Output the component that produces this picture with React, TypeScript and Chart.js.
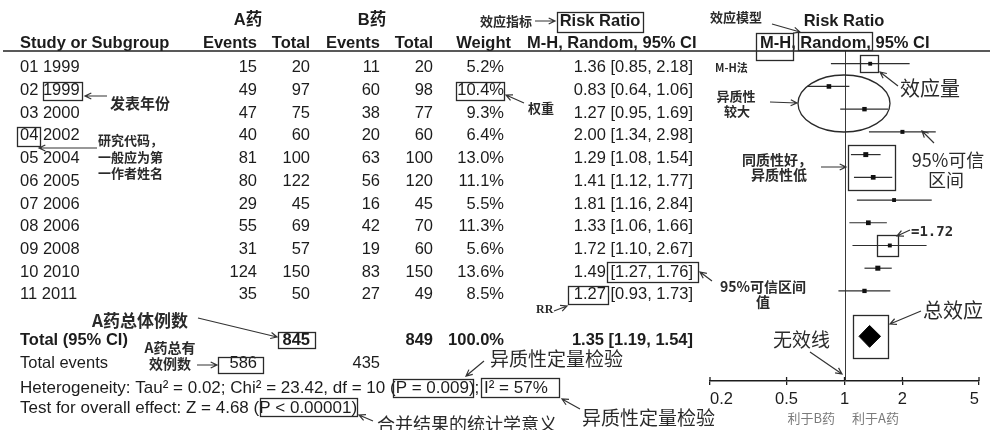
import React, { useEffect, useRef } from 'react';
import { Chart, registerables } from 'chart.js';

Chart.register(...registerables);

// ---------- data ----------
const studies = ['01 1999', '02 1999', '03 2000', '04 2002', '05 2004', '06 2005', '07 2006', '08 2006', '09 2008', '10 2010', '11 2011'];
const eventsA = [15, 49, 47, 40, 81, 80, 29, 55, 31, 124, 35];
const totalA = [20, 97, 75, 60, 100, 122, 45, 69, 57, 150, 50];
const eventsB = [11, 60, 38, 20, 63, 56, 16, 42, 19, 83, 27];
const totalB = [20, 98, 77, 60, 100, 120, 45, 70, 60, 150, 49];
const weights = [5.2, 10.4, 9.3, 6.4, 13.0, 11.1, 5.5, 11.3, 5.6, 13.6, 8.5];
const rr = [1.36, 0.83, 1.27, 2.0, 1.29, 1.41, 1.81, 1.33, 1.72, 1.49, 1.27];
const ciLow = [0.85, 0.64, 0.95, 1.34, 1.08, 1.12, 1.16, 1.06, 1.1, 1.27, 0.93];
const ciHigh = [2.18, 1.06, 1.69, 2.98, 1.54, 1.77, 2.84, 1.66, 2.67, 1.76, 1.73];
const totalN = [845, 849];
const totalEvents = [586, 435];
const pooled = [1.35, 1.19, 1.54]; // RR, low, high
const xTicks = [0.2, 0.5, 1, 2, 5];
const heterogeneityText = 'Heterogeneity: Tau² = 0.02; Chi² = 23.42, df = 10 (P = 0.009); I² = 57%';
const overallText = 'Test for overall effect: Z = 4.68 (P < 0.00001)';

// ---------- styles ----------
const LAT = '"Liberation Sans", Arial, sans-serif';
const MIX = '"Liberation Sans", "Noto Sans CJK SC", sans-serif';
const CJK = '"Noto Sans CJK SC", "Liberation Sans", sans-serif';
const INK = '#1c1c1c';
const FS = 16.5;

const fmt = (v: number) => v.toFixed(2);
const fmtW = (v: number) => v.toFixed(1) + '%';

function App() {
  const ref = useRef<HTMLCanvasElement | null>(null);

  useEffect(() => {
    const canvas = ref.current;
    if (!canvas) return;

    const text = (ctx: CanvasRenderingContext2D, s: string, x: number, y: number, font: string, align: CanvasTextAlign = 'left', color = INK) => {
      ctx.font = font;
      ctx.fillStyle = color;
      ctx.textAlign = align;
      ctx.textBaseline = 'middle';
      ctx.fillText(s, x, y);
    };
    const box = (ctx: CanvasRenderingContext2D, x: number, y: number, w: number, h: number) => {
      ctx.strokeStyle = '#2a2a2a';
      ctx.lineWidth = 1.3;
      ctx.strokeRect(x + 0.5, y + 0.5, w, h);
    };
    const arrow = (ctx: CanvasRenderingContext2D, x1: number, y1: number, x2: number, y2: number) => {
      ctx.strokeStyle = '#333';
      ctx.lineWidth = 1.2;
      ctx.beginPath();
      ctx.moveTo(x1, y1);
      ctx.lineTo(x2, y2);
      const a = Math.atan2(y2 - y1, x2 - x1);
      const L = 7;
      ctx.moveTo(x2 - L * Math.cos(a - 0.45), y2 - L * Math.sin(a - 0.45));
      ctx.lineTo(x2, y2);
      ctx.lineTo(x2 - L * Math.cos(a + 0.45), y2 - L * Math.sin(a + 0.45));
      ctx.stroke();
    };

    const tablePlugin = {
      id: 'forestTable',
      beforeDatasetsDraw(chart: any) {
        const ctx = chart.ctx as CanvasRenderingContext2D;
        const xs = chart.scales.x;
        const area = chart.chartArea;
        const x1 = xs.getPixelForValue(1);
        ctx.save();
        ctx.strokeStyle = '#3a3a3a';
        ctx.lineWidth = 1;
        ctx.beginPath();
        ctx.moveTo(Math.round(x1) + 0.5, area.top);
        ctx.lineTo(Math.round(x1) + 0.5, area.bottom);
        ctx.stroke();
        ctx.restore();
      },
      afterDraw(chart: any) {
        const ctx = chart.ctx as CanvasRenderingContext2D;
        const xs = chart.scales.x;
        const ys = chart.scales.y;
        const area = chart.chartArea;
        const rowY = (i: number) => ys.getPixelForValue(i) + 4;
        ctx.save();

        // upward halves of the axis tick marks
        ctx.strokeStyle = INK;
        ctx.lineWidth = 1.3;
        ctx.beginPath();
        xTicks.forEach((v) => {
          const px = xs.getPixelForValue(v);
          ctx.moveTo(px, area.bottom - 4);
          ctx.lineTo(px, area.bottom);
        });
        ctx.stroke();

        // header
        const B = `bold ${FS}px ${MIX}`;
        const R = `${FS}px ${LAT}`;
        text(ctx, 'A药', 248, 20, B, 'center');
        text(ctx, 'B药', 372, 20, B, 'center');
        text(ctx, 'Risk Ratio', 600, 21, B, 'center');
        text(ctx, 'Risk Ratio', 844, 21, B, 'center');
        text(ctx, 'Study or Subgroup', 20, 43, B);
        text(ctx, 'Events', 257, 43, B, 'right');
        text(ctx, 'Total', 310, 43, B, 'right');
        text(ctx, 'Events', 380, 43, B, 'right');
        text(ctx, 'Total', 433, 43, B, 'right');
        text(ctx, 'Weight', 511, 43, B, 'right');
        text(ctx, 'M-H, Random, 95% CI', 527, 43, B);
        text(ctx, 'M-H, Random, 95% CI', 760, 43, B);
        ctx.strokeStyle = '#222';
        ctx.lineWidth = 1.6;
        ctx.beginPath();
        ctx.moveTo(3, 51);
        ctx.lineTo(990, 51);
        ctx.stroke();

        // study rows
        studies.forEach((s, i) => {
          const y = rowY(i);
          text(ctx, s, 20, y, R);
          text(ctx, String(eventsA[i]), 257, y, R, 'right');
          text(ctx, String(totalA[i]), 310, y, R, 'right');
          text(ctx, String(eventsB[i]), 380, y, R, 'right');
          text(ctx, String(totalB[i]), 433, y, R, 'right');
          text(ctx, fmtW(weights[i]), 504, y, R, 'right');
          text(ctx, `${fmt(rr[i])} [${fmt(ciLow[i])}, ${fmt(ciHigh[i])}]`, 693, y, R, 'right');
        });

        // totals
        const yT = rowY(12);
        text(ctx, 'Total (95% CI)', 20, yT, B);
        text(ctx, String(totalN[0]), 310, yT, B, 'right');
        text(ctx, String(totalN[1]), 433, yT, B, 'right');
        text(ctx, '100.0%', 504, yT, B, 'right');
        text(ctx, `${fmt(pooled[0])} [${fmt(pooled[1])}, ${fmt(pooled[2])}]`, 693, yT, B, 'right');
        const yE = rowY(13);
        text(ctx, 'Total events', 20, yE, R);
        text(ctx, String(totalEvents[0]), 257, yE, R, 'right');
        text(ctx, String(totalEvents[1]), 380, yE, R, 'right');
        const S = `17px ${LAT}`;
        text(ctx, heterogeneityText, 20, 388, S);
        text(ctx, overallText, 20, 408, S);

        // favours labels
        text(ctx, '利于B药', 835, 418, `13px ${CJK}`, 'right', '#7a7a7a');
        text(ctx, '利于A药', 852, 418, `13px ${CJK}`, 'left', '#7a7a7a');

        // ---------- annotations ----------
        const sb = (n: number) => `bold ${n}px ${CJK}`;
        const lg = (n: number) => `${n}px ${CJK}`;
        const AC = '#2a2a2a';
        text(ctx, '效应指标', 480, 21, sb(13), 'left', AC);
        arrow(ctx, 535, 21, 555, 21);
        box(ctx, 557, 12, 86, 20);

        text(ctx, '效应模型', 710, 17, sb(13), 'left', AC);
        arrow(ctx, 772, 24, 800, 32);
        box(ctx, 756, 33, 37, 27);
        box(ctx, 798, 32, 74, 18);
        text(ctx, 'M-H法', 715, 68, `bold 11px ${CJK}`, 'left', AC);

        box(ctx, 43, 82, 39, 18);
        arrow(ctx, 107, 96, 85, 96);
        text(ctx, '发表年份', 110, 103, sb(15), 'left', AC);

        box(ctx, 17, 127, 23, 19);
        arrow(ctx, 97, 148, 39, 148);
        text(ctx, '研究代码，', 98, 140, sb(13), 'left', AC);
        text(ctx, '一般应为第', 98, 157, sb(13), 'left', AC);
        text(ctx, '一作者姓名', 98, 173, sb(13), 'left', AC);

        box(ctx, 456, 82, 48, 18);
        arrow(ctx, 524, 103, 506, 95);
        text(ctx, '权重', 528, 108, sb(13), 'left', AC);

        box(ctx, 607, 262, 91, 20);
        arrow(ctx, 712, 281, 700, 272);
        text(ctx, '95%可信区间', 720, 287, sb(14), 'left', AC);
        text(ctx, '值', 763, 302, sb(14), 'center', AC);

        box(ctx, 568, 286, 40, 18);
        text(ctx, 'RR', 536, 310, `bold 12px "Liberation Serif", serif`, 'left', AC);
        arrow(ctx, 554, 311, 567, 306);

        text(ctx, 'A药总体例数', 92, 321, sb(17), 'left', AC);
        arrow(ctx, 198, 318, 277, 337);
        box(ctx, 278, 332, 37, 16);

        text(ctx, 'A药总有', 170, 348, sb(14), 'center', AC);
        text(ctx, '效例数', 170, 364, sb(14), 'center', AC);
        arrow(ctx, 197, 365, 217, 365);
        box(ctx, 218, 357, 45, 16);

        text(ctx, '异质性定量检验', 490, 359, lg(19), 'left', AC);
        arrow(ctx, 484, 361, 466, 376);
        box(ctx, 393, 379, 80, 18);
        box(ctx, 481, 378, 78, 19);
        text(ctx, '异质性定量检验', 582, 418, lg(19), 'left', AC);
        arrow(ctx, 580, 409, 562, 399);

        box(ctx, 260, 398, 97, 18);
        text(ctx, '合并结果的统计学意义', 377, 424, lg(18), 'left', AC);
        arrow(ctx, 373, 421, 359, 415);

        // forest annotations
        box(ctx, 860, 55, 18, 17);
        text(ctx, '效应量', 900, 88, lg(20), 'left', AC);
        arrow(ctx, 898, 86, 880, 72);

        ctx.strokeStyle = '#2a2a2a';
        ctx.lineWidth = 1.3;
        ctx.beginPath();
        ctx.ellipse(844, 103.5, 46, 28.5, 0, 0, Math.PI * 2);
        ctx.stroke();
        text(ctx, '异质性', 736, 96, sb(13), 'center', AC);
        text(ctx, '较大', 737, 111, sb(13), 'center', AC);
        arrow(ctx, 770, 102, 797, 103);

        text(ctx, '95%可信', 948, 160, lg(18), 'center', AC);
        text(ctx, '区间', 946, 180, lg(18), 'center', AC);
        arrow(ctx, 934, 143, 922, 131);

        box(ctx, 848, 145, 47, 45);
        text(ctx, '同质性好，', 777, 160, sb(14), 'center', AC);
        text(ctx, '异质性低', 779, 175, sb(14), 'center', AC);
        arrow(ctx, 821, 167, 846, 167);

        box(ctx, 877, 235, 21, 21);
        text(ctx, '=1.72', 911, 232, `bold 14px "DejaVu Sans Mono", monospace`, 'left', AC);
        arrow(ctx, 910, 230, 897, 236);

        box(ctx, 853, 315, 35, 43);
        text(ctx, '总效应', 923, 310, lg(20), 'left', AC);
        arrow(ctx, 921, 311, 890, 324);

        text(ctx, '无效线', 773, 340, lg(19), 'left', AC);
        arrow(ctx, 810, 352, 842, 374);

        ctx.restore();
      },
    };

    const pointSet = {
      label: 'RR',
      data: rr.map((v, i) => ({ x: v, y: i })),
      showLine: false,
      pointStyle: 'rect',
      pointRadius: weights.map((w) => 2.2 + w * 0.1),
      pointHoverRadius: 0,
      backgroundColor: '#111',
      borderColor: '#111',
      borderWidth: 0,
    };
    const ciSets = studies.map((s, i) => ({
      label: s,
      data: [
        { x: ciLow[i], y: i },
        { x: ciHigh[i], y: i },
      ],
      showLine: true,
      borderColor: '#2e2e2e',
      borderWidth: 1.2,
      pointRadius: 0,
      pointHoverRadius: 0,
      fill: false,
    }));
    const totalRow = 12;
    const dh = 0.48;
    const diamondSet = {
      label: 'Total',
      data: [
        { x: pooled[1], y: totalRow },
        { x: pooled[0], y: totalRow - dh },
        { x: pooled[2], y: totalRow },
        { x: pooled[0], y: totalRow + dh },
        { x: pooled[1], y: totalRow },
      ],
      showLine: true,
      fill: 'shape',
      backgroundColor: '#000',
      borderColor: '#000',
      borderWidth: 1,
      pointRadius: 0,
      pointHoverRadius: 0,
      tension: 0,
    };

    const chart = new Chart(canvas, {
      type: 'line',
      data: { datasets: [pointSet, diamondSet, ...ciSets] as any },
      options: {
        animation: false,
        responsive: false,
        devicePixelRatio: 1,
        events: [],
        layout: { padding: { left: 710, right: 11, top: 51, bottom: 0 } },
        plugins: { legend: { display: false }, tooltip: { enabled: false } },
        scales: {
          x: {
            type: 'logarithmic',
            min: 0.2,
            max: 5,
            position: 'bottom',
            afterBuildTicks: (s: any) => {
              s.ticks = xTicks.map((v) => ({ value: v }));
            },
            afterFit: (s: any) => {
              s.height = 49;
            },
            ticks: {
              autoSkip: false,
              maxRotation: 0,
              align: 'inner',
              padding: 5,
              color: INK,
              font: { family: '"Liberation Sans", Arial, sans-serif', size: 16.5 },
              callback: (v: any) => String(v),
            },
            grid: { drawOnChartArea: false, drawTicks: true, tickLength: 4, color: INK, lineWidth: 1.3 },
            border: { display: true, color: INK, width: 1.5 },
          },
          y: { type: 'linear', reverse: true, min: -0.56, max: 13.965, display: false },
        },
      } as any,
      plugins: [tablePlugin],
    });
    return () => chart.destroy();
  }, []);

  return (
    <div style={{ position: 'fixed', left: 0, top: 0, width: 990, height: 430, background: '#fff' }}>
      <canvas ref={ref} width={990} height={430} style={{ width: 990, height: 430, display: 'block' }} />
    </div>
  );
}

export default App;
